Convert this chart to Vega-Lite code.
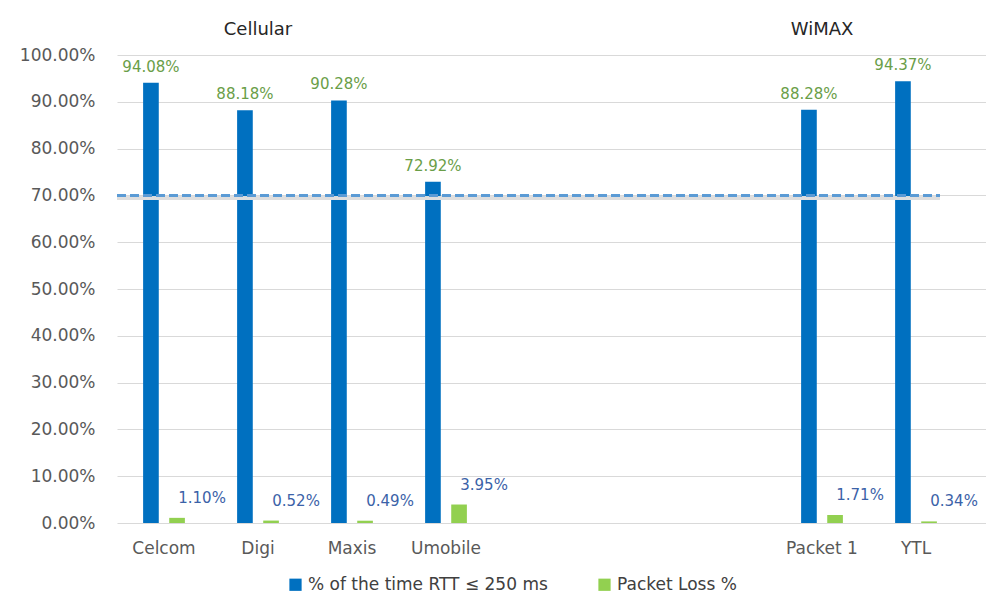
{
  "$schema": "https://vega.github.io/schema/vega-lite/v6.json",
  "autosize": {"type": "none"},
  "width": 869,
  "height": 468,
  "padding": {"left": 117, "top": 55, "right": 0, "bottom": 86},
  "background": "white",
  "config": {
    "font": "DejaVu Sans",
    "view": {"stroke": null},
    "axis": {"labelFont": "DejaVu Sans", "labelColor": "#595959", "labelFontSize": 17}
  },
  "datasets": {
    "bars": [
      {"cat": "Celcom", "series": "% of the time RTT ≤ 250 ms", "value": 0.9408},
      {"cat": "Celcom", "series": "Packet Loss %", "value": 0.011},
      {"cat": "Digi", "series": "% of the time RTT ≤ 250 ms", "value": 0.8818},
      {"cat": "Digi", "series": "Packet Loss %", "value": 0.0052},
      {"cat": "Maxis", "series": "% of the time RTT ≤ 250 ms", "value": 0.9028},
      {"cat": "Maxis", "series": "Packet Loss %", "value": 0.0049},
      {"cat": "Umobile", "series": "% of the time RTT ≤ 250 ms", "value": 0.7292},
      {"cat": "Umobile", "series": "Packet Loss %", "value": 0.0395},
      {"cat": "Packet 1", "series": "% of the time RTT ≤ 250 ms", "value": 0.8828},
      {"cat": "Packet 1", "series": "Packet Loss %", "value": 0.0171},
      {"cat": "YTL", "series": "% of the time RTT ≤ 250 ms", "value": 0.9437},
      {"cat": "YTL", "series": "Packet Loss %", "value": 0.0034}
    ],
    "headers": [
      {"cat": "Digi", "label": "Cellular"},
      {"cat": "Packet 1", "label": "WiMAX"}
    ]
  },
  "data": {"name": "bars"},
  "encoding": {
    "x": {
      "field": "cat",
      "type": "nominal",
      "sort": null,
      "scale": {
        "domain": ["Celcom", "Digi", "Maxis", "Umobile", " ", "  ", "   ", "Packet 1", "YTL"],
        "paddingInner": 0,
        "paddingOuter": 0.1223,
        "align": 0
      },
      "axis": {
        "title": null,
        "labelAngle": 0,
        "ticks": false,
        "domain": false,
        "labelPadding": 17,
        "labelFontSize": 17
      }
    }
  },
  "layer": [
    {
      "mark": {"type": "bar"},
      "encoding": {
        "xOffset": {
          "field": "series",
          "type": "nominal",
          "sort": null,
          "scale": {"domain": ["% of the time RTT ≤ 250 ms", "Packet Loss %"], "paddingInner": 0.4, "paddingOuter": 1.08}
        },
        "y": {
          "field": "value",
          "type": "quantitative",
          "scale": {"domain": [0, 1], "nice": false},
          "axis": {
            "title": null,
            "format": ".2%",
            "values": [0, 0.1, 0.2, 0.3, 0.4, 0.5, 0.6, 0.7, 0.8, 0.9, 1.0],
            "labelOverlap": false,
            "ticks": false,
            "domain": false,
            "labelPadding": 22,
            "gridColor": "#d9d9d9",
            "gridWidth": 1
          }
        },
        "color": {
          "field": "series",
          "type": "nominal",
          "scale": {"domain": ["% of the time RTT ≤ 250 ms", "Packet Loss %"], "range": ["#0070C0", "#92D050"]},
          "legend": {
            "title": null,
            "orient": "none",
            "legendX": 170,
            "legendY": 521,
            "direction": "horizontal",
            "symbolType": "square",
            "symbolSize": 150,
            "labelFontSize": 17,
            "labelColor": "#404040",
            "labelFont": "DejaVu Sans",
            "columnPadding": 48,
            "labelLimit": 400
          }
        }
      }
    },
    {
      "mark": {"type": "rule", "color": "#dedede", "strokeWidth": 3},
      "encoding": {
        "x": {"datum": "Celcom", "bandPosition": 0},
        "x2": {"datum": "YTL", "bandPosition": 0.75},
        "y": {"datum": 0.694}
      }
    },
    {
      "mark": {"type": "rule", "color": "#5B9BD5", "strokeWidth": 3, "strokeDash": [9, 4]},
      "encoding": {
        "x": {"datum": "Celcom", "bandPosition": 0},
        "x2": {"datum": "YTL", "bandPosition": 0.75},
        "y": {"datum": 0.7}
      }
    },
    {
      "transform": [{"filter": "datum.series == '% of the time RTT ≤ 250 ms'"}],
      "mark": {"type": "text", "color": "#6A9E48", "fontSize": 15, "baseline": "bottom", "dy": -8},
      "encoding": {
        "xOffset": {"field": "series", "type": "nominal"},
        "y": {"field": "value", "type": "quantitative"},
        "text": {"field": "value", "type": "quantitative", "format": ".2%"}
      }
    },
    {
      "transform": [{"filter": "datum.series == 'Packet Loss %'"}],
      "mark": {"type": "text", "color": "#3B62A8", "fontSize": 15, "baseline": "bottom", "dy": -12, "dx": 25},
      "encoding": {
        "xOffset": {"field": "series", "type": "nominal"},
        "y": {"field": "value", "type": "quantitative"},
        "text": {"field": "value", "type": "quantitative", "format": ".2%"}
      }
    },
    {
      "data": {"name": "headers"},
      "mark": {"type": "text", "color": "#262626", "fontSize": 18, "baseline": "middle", "clip": false},
      "encoding": {
        "y": {"datum": 1.053},
        "text": {"field": "label", "type": "nominal"}
      }
    }
  ]
}
